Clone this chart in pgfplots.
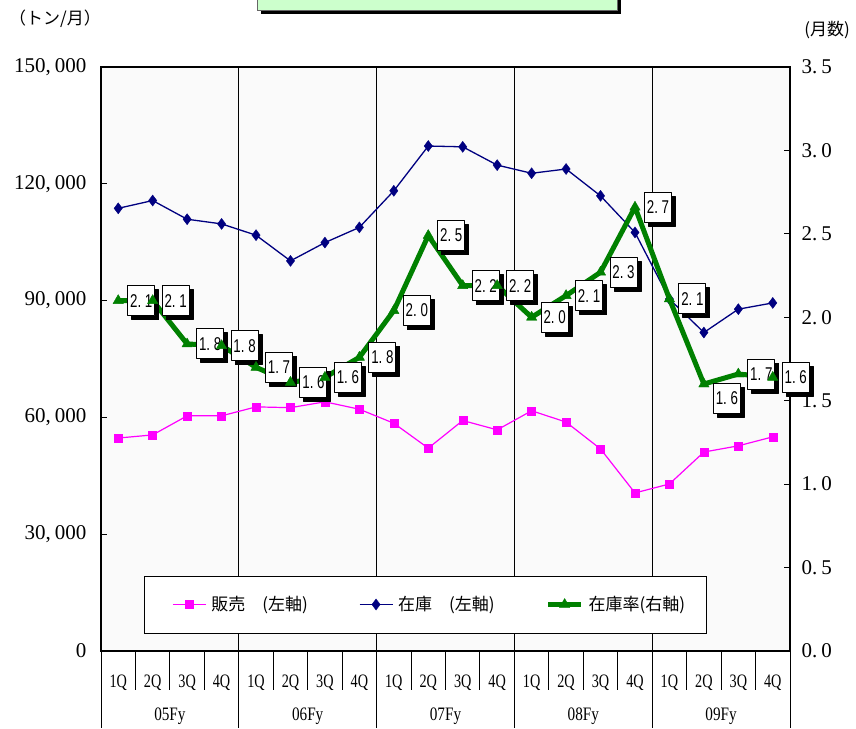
\documentclass[border=0pt]{standalone}
\usepackage{fontspec}
\setmainfont{Liberation Serif}
\newfontfamily\cjk{Noto Sans CJK JP}
\newfontfamily\labfont{Liberation Sans}
\usepackage{pgfplots}
\pgfplotsset{compat=1.18}
\usepackage{pgfplotstable}
\usetikzlibrary{shadows}
\definecolor{bgc}{RGB}{250,250,250}
\definecolor{mag}{RGB}{255,0,255}
\definecolor{nvy}{RGB}{0,0,128}
\definecolor{grn}{RGB}{0,128,0}
\definecolor{ttl}{RGB}{204,255,204}

\pgfplotstableread{
x sales stock
0 54700 113700
1 55500 115700
2 60400 110900
3 60400 109700
4 62700 106800
5 62500 100200
6 64000 104900
7 62100 108800
8 58500 118200
9 52100 129700
10 59200 129500
11 56800 124800
12 61700 122700
13 58800 123800
14 51900 116900
15 40600 107500
16 42900 90400
17 51100 81800
18 52700 87800
19 55000 89400
}\mainTable

\pgfplotstableread{
x ratio lbl dy
0 2.10 2.~1 0
1 2.10 2.~1 0
2 1.84 1.~8 0
3 1.83 1.~8 0
4 1.70 1.~7 0
5 1.61 1.~6 0
6 1.64 1.~6 0
7 1.76 1.~8 0
8 2.04 2.~0 0
9 2.49 2.~5 0
10 2.19 2.~2 0
11 2.19 2.~2 0
12 2.00 2.~0 0
13 2.13 2.~1 0
14 2.27 2.~3 0
15 2.66 2.~7 0
16 2.11 2.~1 0
17 1.60 1.~6 -14
18 1.66 1.~7 0
19 1.64 1.~6 0
}\ratioTable

\begin{document}
\begin{tikzpicture}
\useasboundingbox (0pt,0pt) rectangle (856pt,728pt);
% title box (cut at top)
\fill[black] (261pt,714pt) rectangle (621pt,740pt);
\draw[fill=ttl, draw=black!60, line width=0.8pt] (257pt,718pt) rectangle (617pt,740pt);
\node[font=\cjk\fontsize{17}{19}\selectfont] at (55pt,709pt) {（トン/月）};
\node[font=\cjk\fontsize{17}{19}\selectfont] at (827pt,698pt) {(月数)};

\begin{axis}[
  at={(101pt,77pt)}, anchor=south west,
  scale only axis, width=689pt, height=584pt,
  xmin=-0.5, xmax=19.5, ymin=0, ymax=150000,
  clip=false,
  scaled y ticks=false,
  axis background/.style={fill=bgc},
  axis line style={black, line width=1.3pt},
  ytick={0,30000,60000,90000,120000,150000},
  yticklabels={0,{30,\hspace{4pt}000},{60,\hspace{4pt}000},{90,\hspace{4pt}000},{120,\hspace{4pt}000},{150,\hspace{4pt}000}},
  ytick pos=left,
  tick align=inside, major tick length=6pt,
  ytick style={black, line width=1pt},
  yticklabel style={font=\fontsize{21}{24}\selectfont, xshift=-11pt},
  xtick={0,...,19},
  xticklabels={1Q,2Q,3Q,4Q,1Q,2Q,3Q,4Q,1Q,2Q,3Q,4Q,1Q,2Q,3Q,4Q,1Q,2Q,3Q,4Q},
  xtick style={draw=none},
  xticklabel style={font=\fontsize{19}{21}\selectfont, xscale=0.75, anchor=center, yshift=-32pt},
  extra x ticks={3.5,7.5,11.5,15.5},
  extra x tick labels={},
  extra x tick style={grid=major, major grid style={black, line width=1pt}},
  legend columns=3,
  legend style={draw=none, fill=none, at={(rel axis cs:0.103,0.0796)}, anchor=west,
    inner sep=0pt, font=\cjk\fontsize{17}{19}\selectfont,
    nodes={inner sep=1pt},
    /tikz/every odd column/.append style={column sep=4pt},
    /tikz/every even column/.append style={column sep=50pt}},
  legend image code/.code={\draw[mark repeat=2,mark phase=2,#1] plot coordinates {(0pt,0pt) (16.5pt,0pt) (33pt,0pt)};},
]
\pgfplotsinvokeforeach{0.5,1.5,2.5,4.5,5.5,6.5,8.5,9.5,10.5,12.5,13.5,14.5,16.5,17.5,18.5}{\draw[black,line width=1pt] (axis cs:#1,0) -- ++(0pt,-39pt);}
\pgfplotsinvokeforeach{-0.5,3.5,7.5,11.5,15.5,19.5}{\draw[black,line width=1pt] (axis cs:#1,0) -- ++(0pt,-77pt);}
\node[font=\fontsize{19}{21}\selectfont, xscale=0.8, yshift=-65pt] at (axis cs:1.5,0) {05Fy};
\node[font=\fontsize{19}{21}\selectfont, xscale=0.8, yshift=-65pt] at (axis cs:5.5,0) {06Fy};
\node[font=\fontsize{19}{21}\selectfont, xscale=0.8, yshift=-65pt] at (axis cs:9.5,0) {07Fy};
\node[font=\fontsize{19}{21}\selectfont, xscale=0.8, yshift=-65pt] at (axis cs:13.5,0) {08Fy};
\node[font=\fontsize{19}{21}\selectfont, xscale=0.8, yshift=-65pt] at (axis cs:17.5,0) {09Fy};

\addplot[mag, line width=1.2pt, mark=square*, mark size=4pt, mark options={solid, line width=0.4pt}] table[x=x,y=sales]{\mainTable};
\addlegendentry{販売　(左軸)}
\addplot[nvy, line width=1.3pt, mark=diamond*, mark size=5.5pt, mark options={solid, line width=0.4pt}] table[x=x,y=stock]{\mainTable};
\addlegendentry{在庫　(左軸)}
\addlegendimage{grn, line width=5pt, mark=triangle*, mark size=6pt, mark options={solid, line width=0.4pt}}
\addlegendentry{在庫率(右軸)}
\draw[black, fill=white, line width=1pt] (rel axis cs:0.06241,0.03082) rectangle (rel axis cs:0.87808,0.12842);
\end{axis}

\begin{axis}[
  at={(101pt,77pt)}, anchor=south west,
  scale only axis, width=689pt, height=584pt,
  xmin=-0.5, xmax=19.5, ymin=0, ymax=3.5,
  clip=false,
  axis line style={draw=none},
  xtick=\empty,
  ytick={0,0.5,1,1.5,2,2.5,3,3.5},
  yticklabels={{0.\hspace{4pt}0},{0.\hspace{4pt}5},{1.\hspace{4pt}0},{1.\hspace{4pt}5},{2.\hspace{4pt}0},{2.\hspace{4pt}5},{3.\hspace{4pt}0},{3.\hspace{4pt}5}},
  ytick pos=right, yticklabel pos=right,
  tick align=inside, major tick length=6pt,
  ytick style={black, line width=1pt},
  yticklabel style={font=\fontsize{21}{24}\selectfont, xshift=8pt},
]
\addplot[grn, line width=5pt, line join=round, mark=triangle*, mark size=6pt, mark options={solid, line width=0.4pt},
  nodes near coords={\scalebox{0.72}[1]{\pgfplotspointmeta}},
  point meta=explicit symbolic,
  visualization depends on={\thisrow{dy} \as \dy},
  every node near coord/.append style={anchor=west, xshift=9pt, yshift=\dy pt, draw=black, line width=1pt, fill=white, text=black,
    minimum width=27pt, minimum height=30pt, inner sep=0pt, font=\labfont\fontsize{18.5}{20}\selectfont,
    drop shadow={shadow xshift=4pt, shadow yshift=-4pt, fill=black, opacity=1}},
] table[x=x, y=ratio, meta=lbl]{\ratioTable};
\end{axis}
\end{tikzpicture}
\end{document}
